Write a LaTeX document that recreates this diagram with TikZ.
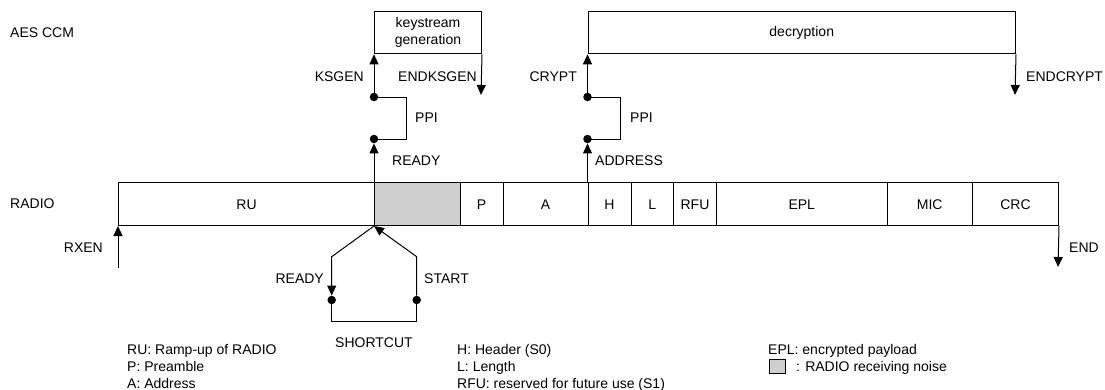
\documentclass[tikz,border=0pt]{standalone}
\usepackage{fontspec}
\setmainfont{Liberation Sans}
\usetikzlibrary{arrows.meta}
\begin{document}
\begin{tikzpicture}[x=1pt,y=-1pt,
  every node/.style={font=\fontsize{14}{17}\selectfont},
  lbl/.style={inner sep=0pt},
  cell/.style={draw, line width=1pt, anchor=north west, minimum height=43pt, inner sep=0pt, text height=10pt, text depth=0pt},
  box/.style={draw, line width=1pt, anchor=north west, minimum height=42.3pt, inner sep=0pt, align=center},
  dot/.style={circle, fill=black, inner sep=0pt, minimum size=8.5pt},
  conn/.style={line width=1pt},
  arr/.style={line width=1pt, -{Triangle[length=10pt,width=9pt]}},
  noise/.style={fill=black!19}
]
\useasboundingbox (0,0) rectangle (1105,389);

% RADIO bar
\node[cell, minimum width=256pt] (ru) at (118,182) {RU};
\node[cell, noise, minimum width=85.5pt] (grey) at (374,182) {};
\node[cell, minimum width=43pt] (p) at (459.5,182) {P};
\node[cell, minimum width=85pt] (a) at (502.5,182) {A};
\node[cell, minimum width=43pt] (h) at (587.5,182) {H};
\node[cell, minimum width=42.5pt] (l) at (630.5,182) {L};
\node[cell, minimum width=43pt] (rfu) at (673,182) {RFU};
\node[cell, minimum width=170.5pt] (epl) at (716,182) {EPL};
\node[cell, minimum width=85.5pt] (mic) at (886.5,182) {MIC};
\node[cell, minimum width=86pt] (crc) at (972,182) {CRC};

% AES CCM boxes
\node[box, minimum width=107pt] (ks) at (374,11) {keystream\\generation};
\node[box, minimum width=427.5pt] (dec) at (587.5,11) {decryption};

% row labels
\node[lbl, anchor=base west] (aes) at (10,37.3) {AES CCM};
\node[lbl, anchor=base west] (radio) at (10,208.3) {RADIO};

% keystream column
\node[dot] (k1) at (374,139) {};
\node[dot] (k2) at (374,97) {};
\coordinate (kb1) at (406,139);
\coordinate (kb2) at (406,97);
\draw[arr] (grey.north west) -- (k1);
\draw[conn] (k1.center) -- (kb1) -- (kb2) -- (k2.center);
\draw[arr] (k2) -- (ks.south west);
\coordinate (endks) at (481,95);
\draw[arr] (ks.south east) -- (endks);
\node[lbl, anchor=base east] (ksgen) at (364,81.3) {KSGEN};
\node[lbl, anchor=base west] (endksgen) at (398,81.3) {ENDKSGEN};
\node[lbl, anchor=base west] (ppi1) at (415,122.3) {PPI};
\node[lbl, anchor=base west] (ready1) at (392,165.3) {READY};

% crypt column
\node[dot] (c1) at (587.5,139) {};
\node[dot] (c2) at (587.5,97) {};
\coordinate (cb1) at (620,139);
\coordinate (cb2) at (620,97);
\draw[arr] (h.north west) -- (c1);
\draw[conn] (c1.center) -- (cb1) -- (cb2) -- (c2.center);
\draw[arr] (c2) -- (dec.south west);
\coordinate (endcr) at (1015,95);
\draw[arr] (dec.south east) -- (endcr);
\node[lbl, anchor=base east] (crypt) at (577,81.3) {CRYPT};
\node[lbl, anchor=base west] (endcrypt) at (1026,81.3) {ENDCRYPT};
\node[lbl, anchor=base west] (ppi2) at (630,122.3) {PPI};
\node[lbl, anchor=base west] (address) at (595,165.3) {ADDRESS};

% RXEN and END
\coordinate (rxs) at (118,268);
\draw[arr] (rxs) -- (ru.south west);
\coordinate (ende) at (1058,267);
\draw[arr] (crc.south east) -- (ende);
\node[lbl, anchor=base east] (rxen) at (103,252.3) {RXEN};
\node[lbl, anchor=base west] (endl) at (1069,252.3) {END};

% shortcut
\coordinate (sl) at (331.7,256.7);
\coordinate (sr) at (416.7,256.7);
\coordinate (bl) at (331.7,321);
\coordinate (br) at (416.7,321);
\node[dot] (dl) at (331.7,300) {};
\node[dot] (dr) at (416.7,300) {};
\draw[arr] (grey.south west) -- (sl) -- (dl);
\draw[conn] (dl.center) -- (bl) -- (br) -- (dr.center);
\draw[arr] (dr) -- (sr) -- (grey.south west);
\node[lbl, anchor=base east] (ready2) at (324,283.3) {READY};
\node[lbl, anchor=base west] (start) at (424,283.3) {START};
\node[lbl, anchor=base] (shortcut) at (374,347.3) {SHORTCUT};

% legend
\node[lbl, anchor=base west] (lg1) at (127,354.3) {RU: Ramp-up of RADIO};
\node[lbl, anchor=base west] (lg2) at (127,371.3) {P: Preamble};
\node[lbl, anchor=base west] (lg3) at (127,388.3) {A: Address};
\node[lbl, anchor=base west] (lg4) at (457,354.3) {H: Header (S0)};
\node[lbl, anchor=base west] (lg5) at (457,371.3) {L: Length};
\node[lbl, anchor=base west] (lg6) at (457,388.3) {RFU: reserved for future use (S1)};
\node[lbl, anchor=base west] (lg7) at (768,354.3) {EPL: encrypted payload};
\node[draw, noise, line width=1pt, anchor=north west, minimum width=16pt, minimum height=14pt, inner sep=0pt] (lgsq) at (769,359) {};
\node[lbl, anchor=base west] (lg8) at (796,371.3) {: RADIO receiving noise};
\end{tikzpicture}
\end{document}
